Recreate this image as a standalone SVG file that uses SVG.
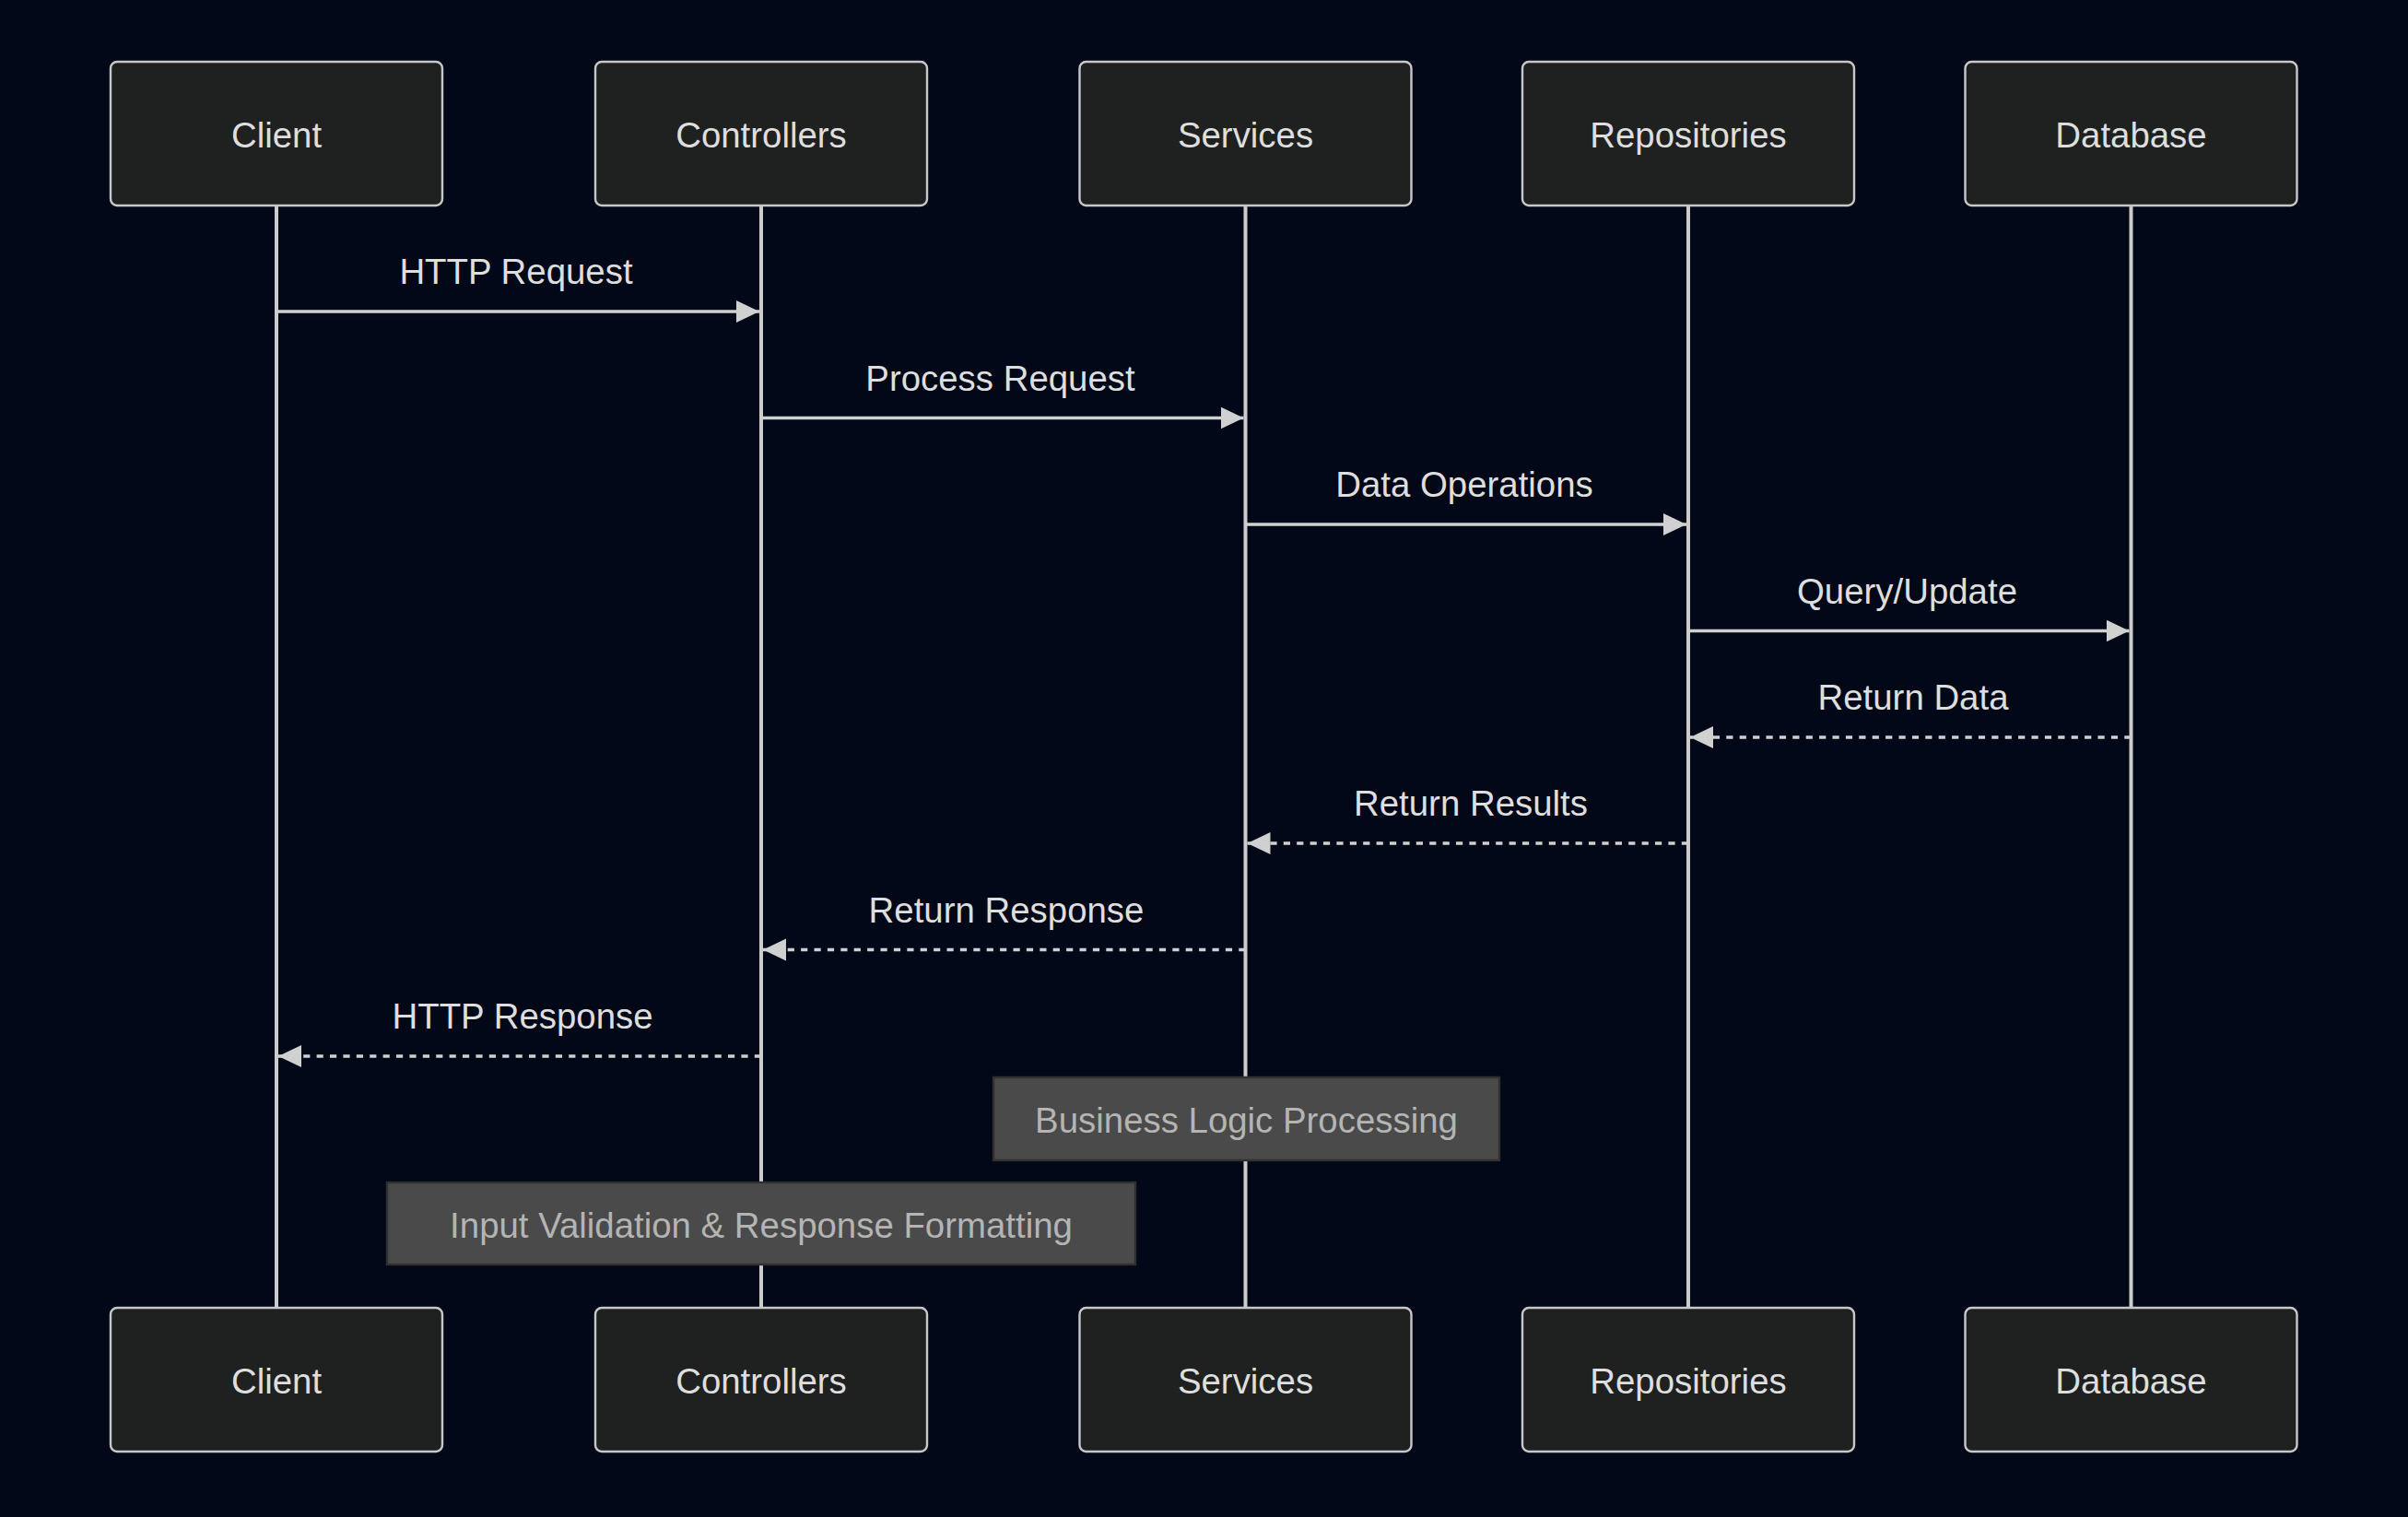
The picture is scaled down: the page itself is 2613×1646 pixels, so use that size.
<svg xmlns="http://www.w3.org/2000/svg" width="2613" height="1646" viewBox="0 0 2613 1646">
<style>
.bg{fill:#020817}
.actor rect{fill:#1f2020;stroke:#c8c8c8;stroke-width:2.4}
.actor text{fill:#dedede;font-family:"Liberation Sans",Arial,sans-serif;font-size:38.4px;text-anchor:middle}
.life{stroke:#cccccc;stroke-width:4;fill:none}
.msg{stroke:#d0d0d0;stroke-width:3.6;fill:none}
.dash{stroke-dasharray:7.2,7.2}
.lbl{fill:#dedede;font-family:"Liberation Sans",Arial,sans-serif;font-size:38.4px;text-anchor:middle}
.note rect{fill:#494a49;stroke:#2f302f;stroke-width:2.4}
.note text{fill:#b4b4b4;font-family:"Liberation Sans",Arial,sans-serif;font-size:38.4px;text-anchor:middle}
</style>
<defs>
<marker id="arrow" markerUnits="userSpaceOnUse" markerWidth="26" markerHeight="26" refX="25" refY="12" orient="auto">
<path d="M0,0 L25,12 L0,24 Z" fill="#d0d0d0"/>
</marker>
</defs>
<rect class="bg" x="0" y="0" width="2613" height="1646"/>
<g id="lifelines">
<line class="life" x1="300" y1="223" x2="300" y2="1419"/>
<line class="life" x1="826" y1="223" x2="826" y2="1419"/>
<line class="life" x1="1351.5" y1="223" x2="1351.5" y2="1419"/>
<line class="life" x1="1832" y1="223" x2="1832" y2="1419"/>
<line class="life" x1="2312.5" y1="223" x2="2312.5" y2="1419"/>
</g>
<g id="actor-client" class="actor">
<rect x="120" y="67" width="360" height="156" rx="7"/>
<text x="300" y="159.5">Client</text>
</g>
<g id="actor-controllers" class="actor">
<rect x="646" y="67" width="360" height="156" rx="7"/>
<text x="826" y="159.5">Controllers</text>
</g>
<g id="actor-services" class="actor">
<rect x="1171.5" y="67" width="360" height="156" rx="7"/>
<text x="1351.5" y="159.5">Services</text>
</g>
<g id="actor-repositories" class="actor">
<rect x="1652" y="67" width="360" height="156" rx="7"/>
<text x="1832" y="159.5">Repositories</text>
</g>
<g id="actor-database" class="actor">
<rect x="2132.5" y="67" width="360" height="156" rx="7"/>
<text x="2312.5" y="159.5">Database</text>
</g>
<g id="actor-client-bottom" class="actor">
<rect x="120" y="1419" width="360" height="156" rx="7"/>
<text x="300" y="1511.5">Client</text>
</g>
<g id="actor-controllers-bottom" class="actor">
<rect x="646" y="1419" width="360" height="156" rx="7"/>
<text x="826" y="1511.5">Controllers</text>
</g>
<g id="actor-services-bottom" class="actor">
<rect x="1171.5" y="1419" width="360" height="156" rx="7"/>
<text x="1351.5" y="1511.5">Services</text>
</g>
<g id="actor-repositories-bottom" class="actor">
<rect x="1652" y="1419" width="360" height="156" rx="7"/>
<text x="1832" y="1511.5">Repositories</text>
</g>
<g id="actor-database-bottom" class="actor">
<rect x="2132.5" y="1419" width="360" height="156" rx="7"/>
<text x="2312.5" y="1511.5">Database</text>
</g>
<g id="connectors">
<line class="msg" x1="300" y1="338" x2="824" y2="338" marker-end="url(#arrow)"/>
<text class="lbl" x="560" y="308">HTTP Request</text>
<line class="msg" x1="826" y1="453.5" x2="1349.5" y2="453.5" marker-end="url(#arrow)"/>
<text class="lbl" x="1085.5" y="423.5">Process Request</text>
<line class="msg" x1="1351.5" y1="569" x2="1830" y2="569" marker-end="url(#arrow)"/>
<text class="lbl" x="1589" y="539">Data Operations</text>
<line class="msg" x1="1832" y1="684.5" x2="2310.5" y2="684.5" marker-end="url(#arrow)"/>
<text class="lbl" x="2069.5" y="654.5">Query/Update</text>
<line class="msg dash" x1="2312.5" y1="800" x2="1834" y2="800" marker-end="url(#arrow)"/>
<text class="lbl" x="2076" y="770">Return Data</text>
<line class="msg dash" x1="1832" y1="915" x2="1353.5" y2="915" marker-end="url(#arrow)"/>
<text class="lbl" x="1596" y="885">Return Results</text>
<line class="msg dash" x1="1351.5" y1="1030.5" x2="828" y2="1030.5" marker-end="url(#arrow)"/>
<text class="lbl" x="1092" y="1000.5">Return Response</text>
<line class="msg dash" x1="826" y1="1146" x2="302" y2="1146" marker-end="url(#arrow)"/>
<text class="lbl" x="567" y="1116">HTTP Response</text>
</g>
<g id="note-services" class="note">
<rect x="1078" y="1169" width="549" height="90"/>
<text x="1352.5" y="1229">Business Logic Processing</text>
</g>
<g id="note-controllers" class="note">
<rect x="420" y="1283" width="812" height="89"/>
<text x="826" y="1342.5">Input Validation &amp; Response Formatting</text>
</g>
</svg>
